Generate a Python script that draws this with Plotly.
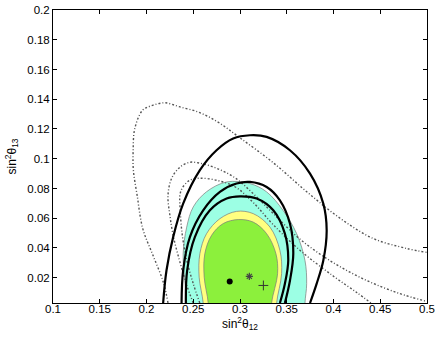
import plotly.graph_objects as go

# contour outlines (sin^2 theta12, sin^2 theta13)
cyan_x = [0.2430, 0.2410, 0.2392, 0.2430, 0.2500, 0.2640, 0.2857, 0.3106, 0.3285, 0.3460, 0.3606, 0.3695, 0.3713, 0.3695]
cyan_y = [0.0030, 0.0180, 0.0360, 0.0540, 0.0676, 0.0777, 0.0844, 0.0833, 0.0777, 0.0653, 0.0496, 0.0316, 0.0160, 0.0030]

yellow_x = [0.2606, 0.2563, 0.2571, 0.2642, 0.2785, 0.2963, 0.3141, 0.3320, 0.3427, 0.3445, 0.3392]
yellow_y = [0.0030, 0.0204, 0.0362, 0.0496, 0.0597, 0.0646, 0.0631, 0.0541, 0.0384, 0.0227, 0.0030]

green_x = [0.2660, 0.2617, 0.2624, 0.2696, 0.2820, 0.2981, 0.3141, 0.3285, 0.3384, 0.3402, 0.3338]
green_y = [0.0030, 0.0204, 0.0362, 0.0485, 0.0564, 0.0591, 0.0574, 0.0496, 0.0362, 0.0227, 0.0030]

black1_x = [0.2178, 0.2214, 0.2285, 0.2392, 0.2571, 0.2749, 0.2927, 0.3106, 0.3285, 0.3534, 0.3749, 0.3891, 0.3927, 0.3891, 0.3820, 0.3749]
black1_y = [0.0030, 0.0250, 0.0473, 0.0698, 0.0923, 0.1057, 0.1136, 0.1158, 0.1147, 0.1057, 0.0900, 0.0698, 0.0519, 0.0316, 0.0160, 0.0030]

black2_x = [0.2375, 0.2392, 0.2464, 0.2606, 0.2785, 0.2963, 0.3106, 0.3285, 0.3427, 0.3534, 0.3570, 0.3534, 0.3480]
black2_y = [0.0030, 0.0250, 0.0473, 0.0653, 0.0777, 0.0833, 0.0844, 0.0810, 0.0720, 0.0564, 0.0362, 0.0180, 0.0030]

black3_x = [0.2421, 0.2435, 0.2517, 0.2678, 0.2857, 0.3000, 0.3178, 0.3356, 0.3480, 0.3516, 0.3480, 0.3427]
black3_y = [0.0030, 0.0250, 0.0473, 0.0653, 0.0732, 0.0747, 0.0732, 0.0653, 0.0496, 0.0316, 0.0160, 0.0030]

dot1_x = [0.2230, 0.2180, 0.2070, 0.1960, 0.1900, 0.1860, 0.1857, 0.1875, 0.1960, 0.2071, 0.2200, 0.2350, 0.2570, 0.2780, 0.3000, 0.3350, 0.3720, 0.4070, 0.4420, 0.4780, 0.5000]
dot1_y = [0.0030, 0.0170, 0.0350, 0.0530, 0.0754, 0.0920, 0.1046, 0.1203, 0.1327, 0.1360, 0.1376, 0.1350, 0.1310, 0.1240, 0.1140, 0.0976, 0.0775, 0.0600, 0.0465, 0.0397, 0.0370]

dot2_x = [0.2500, 0.2430, 0.2360, 0.2290, 0.2250, 0.2230, 0.2270, 0.2357, 0.2460, 0.2570, 0.2750, 0.2950, 0.3150, 0.3350, 0.3640, 0.4000, 0.4360, 0.4700, 0.5000]
dot2_y = [0.0030, 0.0150, 0.0300, 0.0470, 0.0620, 0.0754, 0.0870, 0.0943, 0.0976, 0.0970, 0.0936, 0.0870, 0.0760, 0.0635, 0.0460, 0.0300, 0.0180, 0.0095, 0.0040]

dot3_x = [0.2570, 0.2500, 0.2430, 0.2380, 0.2357, 0.2357, 0.2380, 0.2460, 0.2570, 0.2750, 0.2950, 0.3150, 0.3350, 0.3640, 0.4000, 0.4250, 0.4400]
dot3_y = [0.0030, 0.0160, 0.0320, 0.0500, 0.0698, 0.0754, 0.0800, 0.0855, 0.0869, 0.0855, 0.0810, 0.0700, 0.0560, 0.0385, 0.0210, 0.0100, 0.0030]

# best-fit points
best_x = [0.289]
best_y = [0.0175]
star_x = [0.310]
star_y = [0.0209]
plus_x = [0.325]
plus_y = [0.0148]

x_ticks = [0.1, 0.15, 0.2, 0.25, 0.3, 0.35, 0.4, 0.45, 0.5]
y_ticks = [0.02, 0.04, 0.06, 0.08, 0.1, 0.12, 0.14, 0.16, 0.18, 0.2]

FONT = "Liberation Sans, Arial"


def closed(xs, ys):
    # close region below the visible axis
    return [xs[0]] + xs + [xs[-1], xs[0]], [-0.01] + ys + [-0.01, -0.01]


fig = go.Figure()

for xs, ys, col in [(cyan_x, cyan_y, "#9CFFE4"), (yellow_x, yellow_y, "#FFFF80"), (green_x, green_y, "#8CF03C")]:
    cx, cy = closed(xs, ys)
    fig.add_trace(go.Scatter(x=cx, y=cy, mode="lines", fill="toself", fillcolor=col,
                             line=dict(color="#7a7a7a", width=0.7, shape="spline", smoothing=1.0),
                             hoverinfo="skip"))

for xs, ys in [(dot1_x, dot1_y), (dot2_x, dot2_y), (dot3_x, dot3_y)]:
    fig.add_trace(go.Scatter(x=xs, y=ys, mode="lines",
                             line=dict(color="#555555", width=1.4, dash="2px,2px,1px,2px", shape="spline", smoothing=1.0)))

for xs, ys in [(black1_x, black1_y), (black2_x, black2_y), (black3_x, black3_y)]:
    cx, cy = closed(xs, ys)
    fig.add_trace(go.Scatter(x=cx[1:-2], y=cy[1:-2], mode="lines",
                             line=dict(color="black", width=2.2, shape="spline", smoothing=1.0)))

fig.add_trace(go.Scatter(x=best_x, y=best_y, mode="markers", marker=dict(color="black", size=6)))
fig.add_trace(go.Scatter(x=star_x, y=star_y, mode="markers",
                         marker=dict(symbol="asterisk-open", color="#444444", size=6, line=dict(width=1.2, color="#444444"))))
fig.add_trace(go.Scatter(x=plus_x, y=plus_y, mode="markers",
                         marker=dict(symbol="cross-thin-open", color="#333333", size=7, line=dict(width=1, color="#333333"))))

axis_style = dict(showgrid=False, zeroline=False, showline=True, linecolor="black", linewidth=1,
                  mirror="ticks", ticks="inside", ticklen=4, tickcolor="black", automargin=False,
                  tickfont=dict(family=FONT, size=11.5, color="black"))

fig.update_xaxes(range=[0.1, 0.5], tickvals=x_ticks, ticktext=[f"{v:g}" for v in x_ticks],
                 ticklabelstandoff=-5,
                 title=dict(text="sin<sup>2</sup>θ<sub>12</sub>", standoff=1,
                            font=dict(family=FONT, size=12, color="black")),
                 **axis_style)
fig.update_yaxes(range=[0.003, 0.2], tickvals=y_ticks, ticktext=[f"{v:g}" for v in y_ticks],
                 title=dict(text="sin<sup>2</sup>θ<sub>13</sub>", standoff=8,
                            font=dict(family=FONT, size=12, color="black")),
                 **axis_style)

fig.update_layout(width=437, height=343, showlegend=False,
                  margin=dict(l=53, r=10, t=10, b=40),
                  paper_bgcolor="white", plot_bgcolor="white")

# the page has a default body margin; remove it so the figure fills the window
fig.write_html("out.html", config={"displayModeBar": False},
               post_script="document.body.style.margin='0px';")
